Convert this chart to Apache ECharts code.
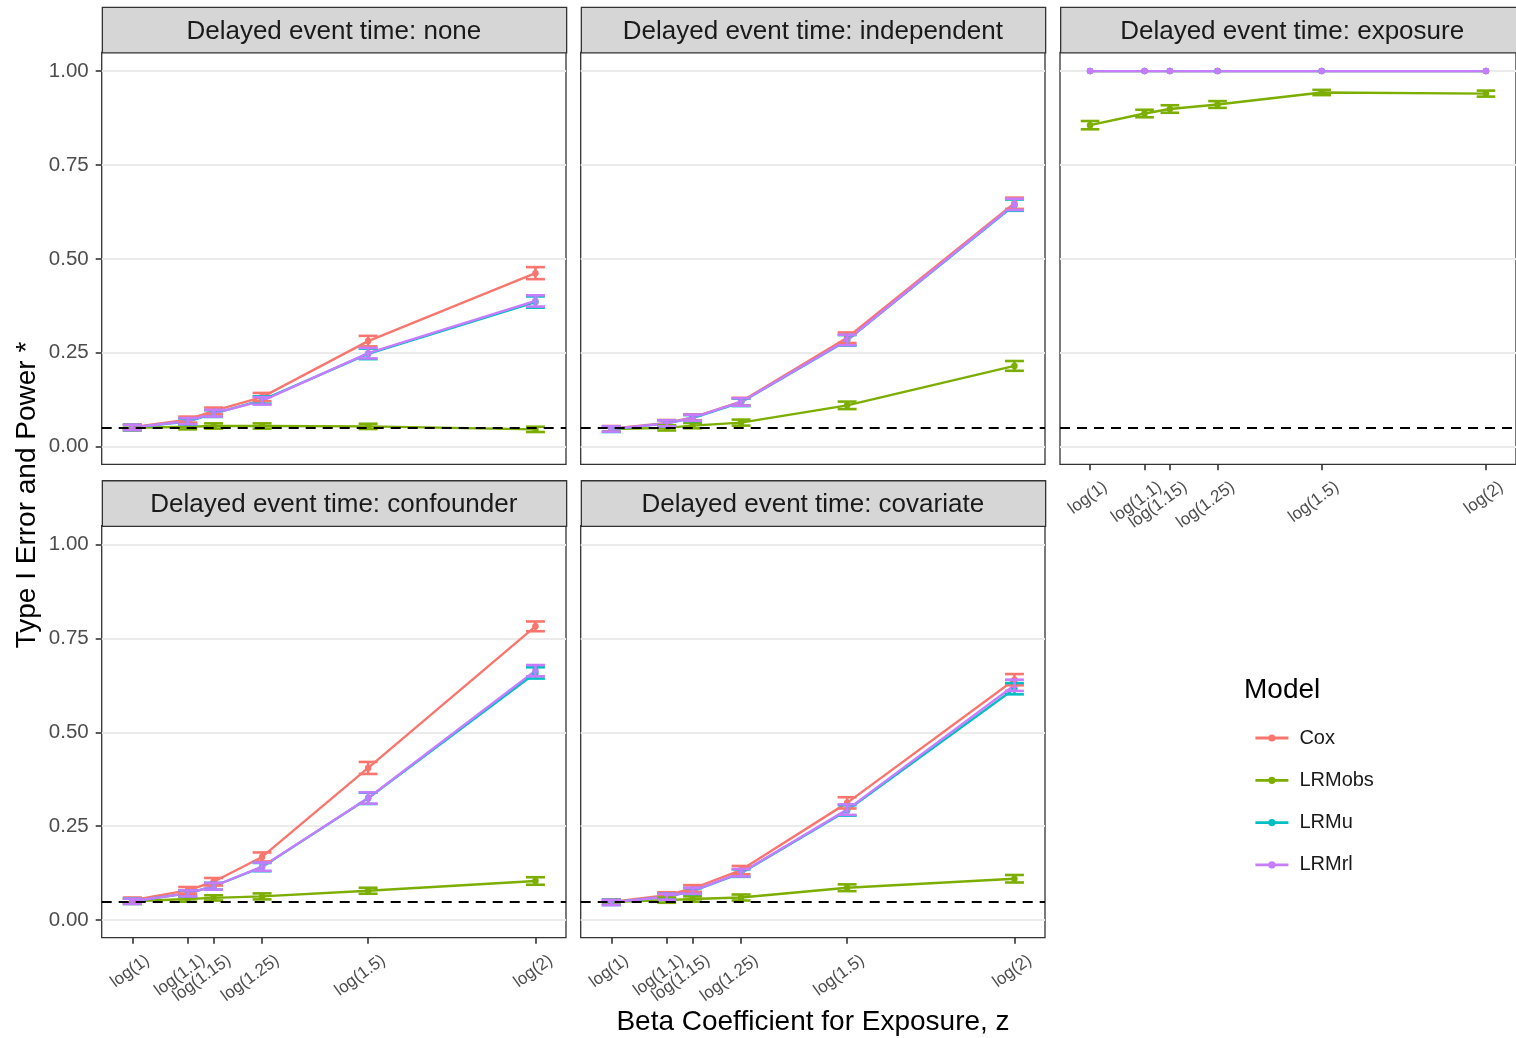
<!DOCTYPE html>
<html>
<head>
<meta charset="utf-8">
<script src="https://cdn.jsdelivr.net/npm/echarts@6/dist/echarts.min.js"></script>
<style>
  html, body { margin: 0; padding: 0; background: #ffffff; }
  #chart { width: 1516px; height: 1038px; }
</style>
</head>
<body>
<div id="chart"></div>
<script>
// Facet titles, one per simulation scenario
const panelTitles = [
  'Delayed event time: none',
  'Delayed event time: independent',
  'Delayed event time: exposure',
  'Delayed event time: confounder',
  'Delayed event time: covariate'
];

const models = ['Cox', 'LRMobs', 'LRMu', 'LRMrl'];
const modelColors = ['#F8766D', '#7CAE00', '#00BFC4', '#C77CFF'];

// True exposure effects (x positions) and their tick labels
const betaValues = [Math.log(1), Math.log(1.1), Math.log(1.15), Math.log(1.25), Math.log(1.5), Math.log(2)];
const betaLabels = ['log(1)', 'log(1.1)', 'log(1.15)', 'log(1.25)', 'log(1.5)', 'log(2)'];
const yTickValues = [0, 0.25, 0.5, 0.75, 1];
const nominalLevel = 0.05;

// Rejection rates: one row per panel (none, independent, exposure, confounder, covariate)
const coxRate = [
  [0.052, 0.072, 0.095, 0.132, 0.281, 0.462],
  [0.048, 0.063, 0.078, 0.120, 0.290, 0.648],
  [1.000, 1.000, 1.000, 1.000, 1.000, 1.000],
  [0.053, 0.079, 0.102, 0.168, 0.405, 0.782],
  [0.048, 0.066, 0.084, 0.133, 0.312, 0.640]
];
const lrmObsRate = [
  [0.050, 0.053, 0.055, 0.055, 0.054, 0.046],
  [0.047, 0.050, 0.056, 0.064, 0.110, 0.215],
  [0.856, 0.887, 0.899, 0.911, 0.943, 0.940],
  [0.050, 0.056, 0.059, 0.063, 0.078, 0.104],
  [0.048, 0.053, 0.056, 0.060, 0.086, 0.110]
];
const lrmURate = [
  [0.051, 0.067, 0.088, 0.124, 0.247, 0.385],
  [0.046, 0.062, 0.076, 0.118, 0.283, 0.643],
  [1.000, 1.000, 1.000, 1.000, 1.000, 1.000],
  [0.050, 0.071, 0.090, 0.141, 0.324, 0.658],
  [0.047, 0.062, 0.077, 0.125, 0.292, 0.616]
];
const lrmRlRate = [
  [0.051, 0.068, 0.089, 0.122, 0.249, 0.388],
  [0.047, 0.062, 0.077, 0.119, 0.284, 0.645],
  [1.000, 1.000, 1.000, 1.000, 1.000, 1.000],
  [0.050, 0.071, 0.090, 0.142, 0.325, 0.664],
  [0.047, 0.062, 0.078, 0.126, 0.294, 0.625]
];

// Standard errors of the rejection rates (error bar half-lengths)
const coxSE = [
  [0.007, 0.008, 0.009, 0.011, 0.014, 0.016],
  [0.007, 0.008, 0.008, 0.010, 0.014, 0.015],
  [0.000, 0.000, 0.000, 0.000, 0.000, 0.000],
  [0.007, 0.009, 0.010, 0.012, 0.016, 0.013],
  [0.007, 0.008, 0.009, 0.011, 0.015, 0.015]
];
const lrmObsSE = [
  [0.007, 0.007, 0.007, 0.007, 0.007, 0.007],
  [0.007, 0.007, 0.007, 0.008, 0.010, 0.013],
  [0.011, 0.010, 0.010, 0.009, 0.007, 0.008],
  [0.007, 0.007, 0.007, 0.008, 0.008, 0.010],
  [0.007, 0.007, 0.007, 0.008, 0.009, 0.010]
];
const lrmUSE = [
  [0.007, 0.008, 0.009, 0.010, 0.014, 0.015],
  [0.007, 0.008, 0.008, 0.010, 0.014, 0.015],
  [0.000, 0.000, 0.000, 0.000, 0.000, 0.000],
  [0.007, 0.008, 0.009, 0.011, 0.015, 0.015],
  [0.007, 0.008, 0.008, 0.010, 0.014, 0.015]
];
const lrmRlSE = [
  [0.007, 0.008, 0.009, 0.010, 0.014, 0.015],
  [0.007, 0.008, 0.008, 0.010, 0.014, 0.015],
  [0.000, 0.000, 0.000, 0.000, 0.000, 0.000],
  [0.007, 0.008, 0.009, 0.011, 0.015, 0.015],
  [0.007, 0.008, 0.008, 0.010, 0.014, 0.015]
];

const modelRates = [coxRate, lrmObsRate, lrmURate, lrmRlRate];
const modelSEs = [coxSE, lrmObsSE, lrmUSE, lrmRlSE];

// ---- layout ----
const FONT = '"Liberation Sans", Arial, Helvetica, sans-serif';
const colLeft = [101.7, 580.7, 1060];
const rowTop = [52.3, 525.7];
const panelW = 464.3;
const panelH = 412;
const stripH = 45.6;
const xRange = [-0.0526, 0.7457];
const yRange = [-0.047, 1.05];
const capHalf = 0.0163;

const chart = echarts.init(document.getElementById('chart'), null, { renderer: 'canvas' });

function betaLabel(v) {
  const i = betaValues.findIndex(b => Math.abs(b - v) < 1e-9);
  return i >= 0 ? betaLabels[i] : '';
}

const grids = [], xAxes = [], yAxes = [], lineSeries = [], barSeries = [], graphics = [];

panelTitles.forEach((title, p) => {
  const row = Math.floor(p / 3), col = p % 3;
  const showX = (row === 1) || (col === 2);
  const showY = (col === 0);
  grids.push({
    left: colLeft[col], top: rowTop[row], width: panelW, height: panelH,
    show: true, borderColor: '#333333', borderWidth: 1.3, backgroundColor: '#ffffff'
  });
  xAxes.push({
    type: 'value', gridIndex: p, min: xRange[0], max: xRange[1], position: 'bottom',
    axisLine: { show: false, onZero: false },
    splitLine: { show: false },
    axisTick: { show: showX, customValues: betaValues, length: 6, lineStyle: { color: '#333333', width: 1.6 } },
    axisLabel: {
      show: showX, customValues: betaValues, formatter: betaLabel,
      rotate: 36, fontSize: 17, color: '#4d4d4d', fontFamily: FONT,
      margin: 32, padding: [0, -19, 0, 0]
    }
  });
  yAxes.push({
    type: 'value', gridIndex: p, min: yRange[0], max: yRange[1], position: 'left',
    axisLine: { show: false, onZero: false },
    splitLine: { show: true, lineStyle: { color: '#ebebeb', width: 2 } },
    axisTick: { show: showY, customValues: yTickValues, length: 6, lineStyle: { color: '#333333', width: 1.6 } },
    axisLabel: {
      show: showY, customValues: yTickValues, formatter: v => v.toFixed(2),
      fontSize: 20.5, color: '#4d4d4d', fontFamily: FONT, margin: 13
    }
  });

  models.forEach((m, k) => {
    const rates = modelRates[k][p];
    const ses = modelSEs[k][p];
    const line = {
      type: 'line', name: m, xAxisIndex: p, yAxisIndex: p,
      data: betaValues.map((b, j) => [b, rates[j]]),
      symbol: 'circle', symbolSize: 6.5, showSymbol: true,
      lineStyle: { color: modelColors[k], width: 2.4 },
      itemStyle: { color: modelColors[k] },
      emphasis: { disabled: true }, silent: true, z: 2
    };
    if (k === 0) {
      line.markLine = {
        symbol: 'none', silent: true, animation: false,
        label: { show: false },
        lineStyle: { color: '#000000', type: [10, 7], width: 2.2 },
        data: [{ yAxis: nominalLevel }]
      };
    }
    lineSeries.push(line);

    barSeries.push({
      type: 'custom', name: m, xAxisIndex: p, yAxisIndex: p,
      data: betaValues.map((b, j) => [b, rates[j], ses[j]]),
      encode: { x: 0, y: 1 }, silent: true, z: 3,
      renderItem: (params, api) => {
        const x = api.value(0), y = api.value(1), se = api.value(2);
        if (!(se > 0)) return null;
        const lo = api.coord([x, y - se]);
        const hi = api.coord([x, y + se]);
        const xl = api.coord([x - capHalf, y])[0];
        const xr = api.coord([x + capHalf, y])[0];
        const style = { stroke: modelColors[k], lineWidth: 2.6 };
        return {
          type: 'group', children: [
            { type: 'line', shape: { x1: lo[0], y1: lo[1], x2: hi[0], y2: hi[1] }, style },
            { type: 'line', shape: { x1: xl, y1: hi[1], x2: xr, y2: hi[1] }, style },
            { type: 'line', shape: { x1: xl, y1: lo[1], x2: xr, y2: lo[1] }, style }
          ]
        };
      }
    });
  });

  // facet strip
  graphics.push({
    type: 'rect', left: colLeft[col], top: rowTop[row] - stripH, silent: true,
    shape: { width: panelW, height: stripH },
    style: { fill: '#d6d6d6', stroke: '#333333', lineWidth: 1.3 }, z: 10
  });
  graphics.push({
    type: 'text', silent: true, z: 11,
    x: colLeft[col] + panelW / 2, y: rowTop[row] - stripH / 2 + 2,
    style: {
      text: title, fill: '#1a1a1a', font: '26px ' + FONT,
      textAlign: 'center', textVerticalAlign: 'middle'
    }
  });
});

// axis titles and legend title
graphics.push({
  type: 'text', silent: true, x: 813, y: 1022,
  style: { text: 'Beta Coefficient for Exposure, z', fill: '#000000', font: '28px ' + FONT,
           textAlign: 'center', textVerticalAlign: 'middle' }
});
graphics.push({
  type: 'text', silent: true, x: 27, y: 495, rotation: Math.PI / 2,
  style: { text: 'Type I Error and Power *', fill: '#000000', font: '28px ' + FONT,
           textAlign: 'center', textVerticalAlign: 'middle' }
});
graphics.push({
  type: 'text', silent: true, x: 1244, y: 690,
  style: { text: 'Model', fill: '#000000', font: '28px ' + FONT,
           textAlign: 'left', textVerticalAlign: 'middle' }
});

chart.setOption({
  animation: false,
  backgroundColor: '#ffffff',
  textStyle: { fontFamily: FONT },
  grid: grids,
  xAxis: xAxes,
  yAxis: yAxes,
  legend: {
    data: models, orient: 'vertical', left: 1249, top: 723,
    itemWidth: 33, itemHeight: 9, itemGap: 22.3,
    selectedMode: false,
    itemStyle: { borderWidth: 0 },
    lineStyle: { width: 2.8 },
    textStyle: { fontSize: 20, color: '#1a1a1a', fontFamily: FONT, lineHeight: 20, padding: [0, 0, 0, 6] }
  },
  series: lineSeries.concat(barSeries),
  graphic: graphics
});
</script>
</body>
</html>
